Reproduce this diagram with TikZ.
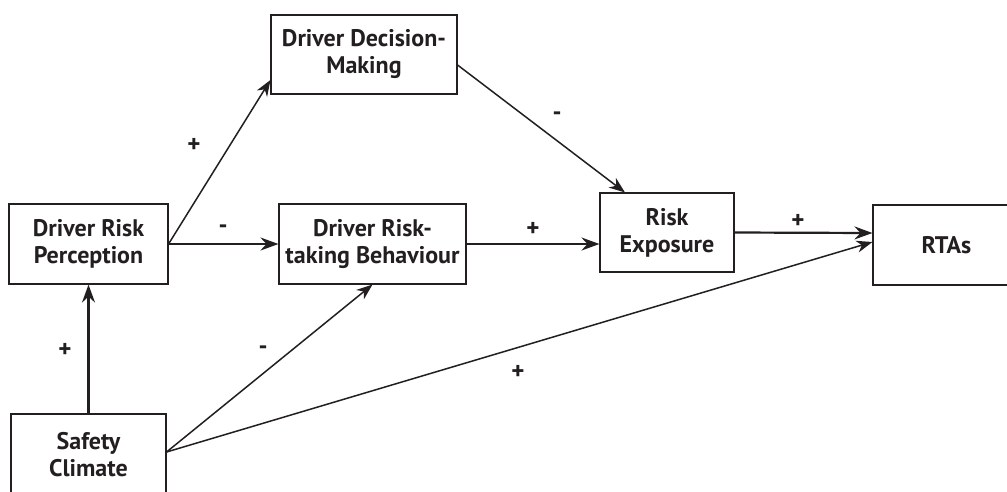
\documentclass[tikz,border=0pt]{standalone}
\usepackage{fontspec}
\setmainfont{PT Sans}
\usetikzlibrary{arrows.meta,calc}
\definecolor{ink}{HTML}{231F20}
\begin{document}
\begin{tikzpicture}[x=1pt,y=-1pt,
  box/.style={draw=ink,line width=1.1pt,align=center,inner sep=0pt,
    font=\bfseries\fontsize{24}{27}\selectfont,text=ink},
  lab/.style={font=\bfseries\fontsize{25}{27}\selectfont,text=ink,inner sep=0pt},
  thickarr/.style={draw=ink,line width=2.2pt,-{Stealth[length=18pt,width=13pt,inset=6pt]}},
  thinarr/.style={draw=ink,line width=1.5pt,-{Stealth[length=16pt,width=12pt,inset=5pt]}}]
\useasboundingbox (0,0) rectangle (1007,491);
\clip (0,0) rectangle (1007,491);
\fill[white] (0,0) rectangle (1007,491);
\node[box,minimum width=186pt,minimum height=79pt] (DDM) at (364,54.5) {Driver Decision-\\Making};
\node[box,minimum width=159pt,minimum height=80pt] (DRP) at (88.5,244) {Driver Risk\\Perception};
\node[box,minimum width=187pt,minimum height=80pt] (DRB) at (372.5,244) {Driver Risk-\\taking Behaviour};
\node[box,minimum width=134pt,minimum height=79pt] (RE) at (667,232.5) {Risk\\Exposure};
\node[box,minimum width=147pt,minimum height=80pt] (RTA) at (946.5,245) {RTAs};
\node[box,minimum width=155pt,minimum height=82pt] (SC) at (88.5,455) {Safety\\Climate};

\draw[thinarr] (DRP.east) -- ([yshift=-25.5pt]DDM.west);
\draw[thickarr] (DRP.east) -- (DRB.west);
\draw[thinarr] ([yshift=-10.5pt]DDM.east) -- ([xshift=-42pt]RE.north);
\draw[thickarr] (DRB.east) -- ([yshift=-11.5pt]RE.west);
\draw[thickarr] (RE.east) -- ([yshift=12pt]RTA.west);
\draw[thickarr] (SC.north) -- (DRP.south);
\draw[thinarr] ([yshift=3pt]SC.east) -- (DRB.south);
\draw[thinarr] ([yshift=3pt]SC.east) -- ([yshift=3pt]RTA.west);

\node[lab] (l1) at (194,145) {+};
\node[lab] (l2) at (223,229) {-};
\node[lab] (l3) at (533,229) {+};
\node[lab] (l4) at (557,116) {-};
\node[lab] (l5) at (798,221) {+};
\node[lab] (l6) at (65,350) {+};
\node[lab] (l7) at (263,350) {-};
\node[lab] (l8) at (518,372) {+};
\end{tikzpicture}
\end{document}
